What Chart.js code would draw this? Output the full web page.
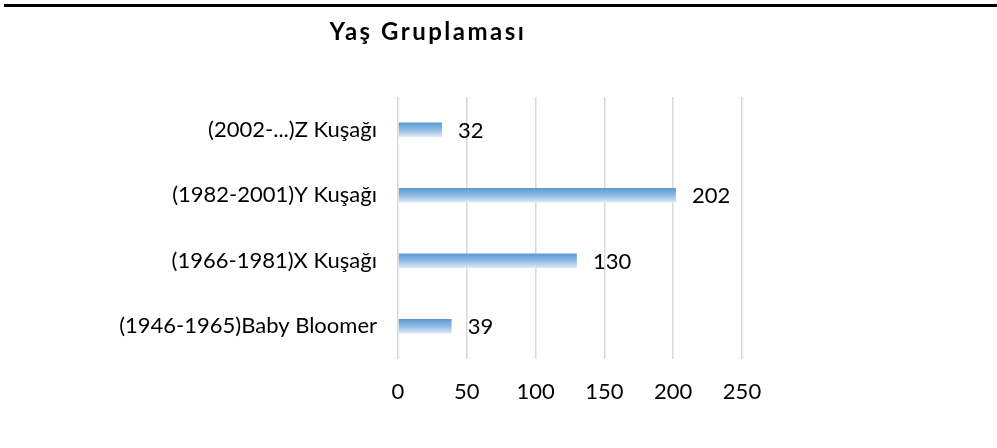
<!DOCTYPE html>
<html>
<head>
<meta charset="utf-8">
<script src="https://cdn.jsdelivr.net/npm/chart.js@4/dist/chart.umd.min.js"></script>
<style>
  html, body { margin: 0; padding: 0; background: #fff; }
  #wrap { width: 997px; height: 448px; position: relative; }
</style>
</head>
<body>
<div id="wrap"><canvas id="ageChart" width="997" height="448"></canvas></div>
<script>

const chartTitle = "Yaş Gruplaması";

const categories = [
  "(2002-...)Z Kuşağı",
  "(1982-2001)Y Kuşağı",
  "(1966-1981)X Kuşağı",
  "(1946-1965)Baby Bloomer"
];

const counts = [32, 202, 130, 39];

const xTicks = [0, 50, 100, 150, 200, 250];

const FONT = "Lato";


/* BAR GRADIENT */

function barGradient(context) {
  const chart = context.chart;
  const yScale = chart.scales.y;
  if (!chart.chartArea || !yScale) return "#5b9bd5";
  const y = yScale.getPixelForValue(context.dataIndex);
  const g = chart.ctx.createLinearGradient(0, y - 7, 0, y + 7);
  g.addColorStop(0, "#5b9bd5");
  g.addColorStop(0.5, "#8fbae3");
  g.addColorStop(1, "#dde9f6");
  return g;
}


/* TOP RULE + TITLE + VALUE LABELS */

const decorations = {
  id: "decorations",
  beforeDraw(chart) {
    const ctx = chart.ctx;
    ctx.save();
    ctx.fillStyle = "#000";
    ctx.fillRect(4, 4, 993, 3);
    ctx.font = "bold 24px " + FONT;
    ctx.letterSpacing = "2.5px";
    ctx.textAlign = "center";
    ctx.textBaseline = "middle";
    ctx.fillText(chartTitle, 428, 32);
    ctx.restore();
  },
  afterDatasetsDraw(chart) {
    const ctx = chart.ctx;
    const meta = chart.getDatasetMeta(0);
    ctx.save();
    ctx.font = "22px " + FONT;
    ctx.fillStyle = "#000";
    ctx.textAlign = "left";
    ctx.textBaseline = "middle";
    meta.data.forEach((bar, i) => {
      ctx.fillText(String(counts[i]), bar.x + 16, bar.y + 1);
    });
    ctx.restore();
  }
};


new Chart(document.getElementById("ageChart"), {

  type: "bar",

  data: {
    labels: categories,
    datasets: [{
      data: counts,
      backgroundColor: barGradient,
      borderWidth: 0,
      barPercentage: 0.22,
      categoryPercentage: 1
    }]
  },

  options: {
    indexAxis: "y",
    responsive: false,
    animation: false,
    layout: {
      padding: { top: 97, right: 255, bottom: 0, left: 0 }
    },
    plugins: {
      legend: { display: false },
      title: { display: false },
      tooltip: { enabled: false }
    },
    scales: {
      x: {
        min: 0,
        max: 250,
        afterBuildTicks(scale) {
          scale.ticks = xTicks.map(v => ({ value: v }));
        },
        afterFit(scale) {
          scale.height = 89;
        },
        grid: {
          color: "#d9d9d9",
          lineWidth: 1.5,
          drawTicks: false
        },
        border: { display: false },
        ticks: {
          color: "#000",
          padding: 20,
          font: { family: FONT, size: 22 }
        }
      },
      y: {
        afterFit(scale) {
          scale.width = 398;
        },
        grid: { display: false, drawTicks: false },
        border: { display: false },
        ticks: {
          color: "#000",
          padding: 21,
          font: { family: FONT, size: 22 }
        }
      }
    }
  },

  plugins: [decorations]

});

</script>
</body>
</html>
